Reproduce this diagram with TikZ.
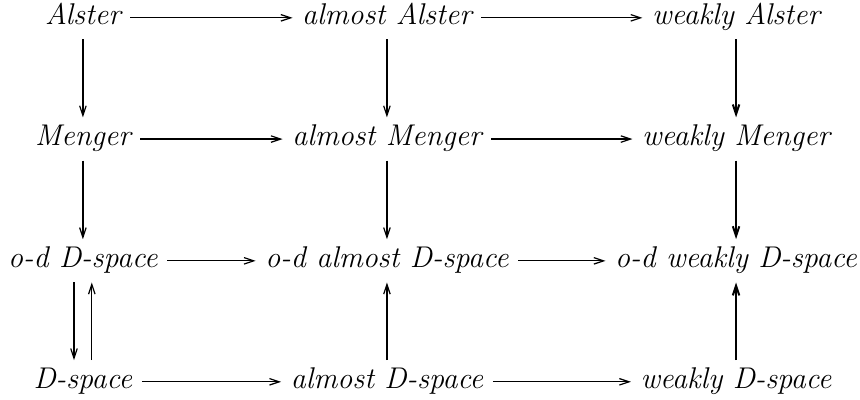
\documentclass[tikz,border=0pt]{standalone}
\usepackage{tikz}
\usetikzlibrary{calc,arrows.meta}

\tikzset{
	sp/.style={font=\fontsize{11.1}{13}\selectfont\itshape, text height=1.6ex, text depth=0.45ex, inner sep=2.4pt},
	imp/.style={-{Straight Barb[length=3.6pt,width=2.4pt]}, line width=0.45pt, shorten >=1pt, shorten <=1pt},
	wimp/.style={imp, line width=0.75pt}
}

\begin{document}
\begin{tikzpicture}
		%%%%% START %%%%%
		\useasboundingbox (0pt, 0pt) rectangle (318.5pt, -148.1pt);
		
		\node[sp] (alster) at (30.7pt, -6.6pt) {Alster};
		\node[sp] (aalster) at (143.3pt, -6.6pt) {almost Alster};
		\node[sp] (walster) at (272.6pt, -6.6pt) {weakly Alster};
		
		\node[sp] (menger) at (30.7pt, -51.5pt) {Menger};
		\node[sp] (amenger) at (143.3pt, -51.5pt) {almost Menger};
		\node[sp] (wmenger) at (272.6pt, -51.5pt) {weakly Menger};
		
		\node[sp] (odd) at (30.7pt, -96.6pt) {o-d D-space};
		\node[sp] (oda) at (143.3pt, -96.6pt) {o-d almost D-space};
		\node[sp] (odw) at (272.6pt, -96.6pt) {o-d weakly D-space};
		
		\node[sp] (dsp) at (30.7pt, -141.4pt) {D-space};
		\node[sp] (adsp) at (143.3pt, -141.4pt) {almost D-space};
		\node[sp] (wdsp) at (272.6pt, -141.4pt) {weakly D-space};
		
		% rows
		\draw[imp] (alster) -- (aalster);
		\draw[imp] (aalster) -- (walster);
		\draw[imp] (menger) -- (amenger);
		\draw[imp] (amenger) -- (wmenger);
		\draw[imp] (odd) -- (oda);
		\draw[imp] (oda) -- (odw);
		\draw[imp] (dsp) -- (adsp);
		\draw[imp] (adsp) -- (wdsp);
		
		% columns
		\draw[imp] (alster) -- (menger);
		\draw[imp] (menger) -- (odd);
		\draw[imp] ($(odd.south)+(-3.3pt,0)$) -- ($(dsp.north)+(-3.3pt,0)$);
		\draw[imp] ($(dsp.north)+(3.3pt,0)$) -- ($(odd.south)+(3.3pt,0)$);
		
		\draw[imp] (aalster) -- (amenger);
		\draw[imp] (amenger) -- (oda);
		\draw[imp] (adsp) -- (oda);
		
		\draw[wimp] (walster) -- (wmenger);
		\draw[wimp] (wmenger) -- (odw);
		\draw[wimp] (wdsp) -- (odw);
		%%%%% END %%%%%
\end{tikzpicture}
\end{document}
